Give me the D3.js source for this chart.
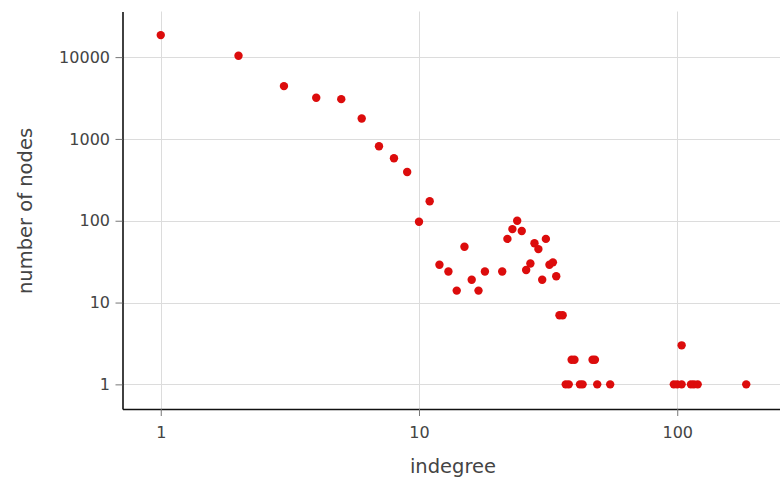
<!DOCTYPE html>
<html>
<head>
<meta charset="utf-8">
<script src="https://cdn.jsdelivr.net/npm/d3@7"></script>
<style>
  html, body { margin: 0; padding: 0; background: #fff; }
  svg { display: block; font-family: "DejaVu Sans", Verdana, sans-serif; }
</style>
</head>
<body>
<svg id="chart" width="780" height="481"></svg>
<script>
// Indegree distribution: number of nodes per indegree value
const indegree = [1, 2, 3, 4, 5, 6, 7, 8, 9, 10, 11,
  12, 13, 14, 15, 16, 17, 18, 21, 22, 23, 24, 25, 26, 27, 28, 29, 30, 31, 32, 33, 34,
  35, 36, 37, 38, 39, 40, 42, 43, 47, 48, 49, 55,
  97, 100, 104, 104, 113, 116, 120, 185];
const nodeCount = [18580, 10370, 4420, 3180, 3065, 1775, 815, 581, 395, 97, 173,
  29, 24, 14, 48, 19, 14, 24, 24, 60, 79, 100, 75, 25, 30, 53, 45, 19, 60, 29, 31, 21,
  7, 7, 1, 1, 2, 2, 1, 1, 2, 2, 1, 1,
  1, 1, 1, 3, 1, 1, 1, 1];

const xTicks = [1, 10, 100];
const yTicks = [1, 10, 100, 1000, 10000];
const xTitle = "indegree";
const yTitle = "number of nodes";

const svg = d3.select("#chart");
const plotLeft = 122.5, plotRight = 780, plotTop = 11.5, plotBottom = 409;

const x = d3.scaleLog().domain([0.711, 250]).range([plotLeft, plotRight]);
const y = d3.scaleLog().domain([0.5, 36100]).range([plotBottom, plotTop]);

// grid lines
const grid = svg.append("g").attr("stroke", "#dcdcdc").attr("stroke-width", 1);
grid.selectAll("line.gx").data(xTicks).join("line")
  .attr("class", "gx")
  .attr("x1", d => Math.round(x(d)) + 0.5).attr("x2", d => Math.round(x(d)) + 0.5)
  .attr("y1", plotTop).attr("y2", plotBottom);
grid.selectAll("line.gy").data(yTicks).join("line")
  .attr("class", "gy")
  .attr("y1", d => Math.round(y(d)) + 0.5).attr("y2", d => Math.round(y(d)) + 0.5)
  .attr("x1", plotLeft).attr("x2", plotRight);

// axes
const fmt = d => String(d);
const xAxis = svg.append("g")
  .attr("transform", `translate(0,${plotBottom})`)
  .call(d3.axisBottom(x).tickValues(xTicks).tickFormat(fmt).tickSize(7).tickSizeOuter(0));
const yAxis = svg.append("g")
  .attr("transform", `translate(${plotLeft},0)`)
  .call(d3.axisLeft(y).tickValues(yTicks).tickFormat(fmt).tickSize(7).tickSizeOuter(0));

[xAxis, yAxis].forEach(a => {
  a.select(".domain").attr("stroke", "#111").attr("stroke-width", 1.6);
  a.selectAll(".tick line").attr("stroke", "#777");
  a.selectAll(".tick text").attr("fill", "#444").style("font-size", "16px")
    .style("font-family", "\"DejaVu Sans\", Verdana, sans-serif");
});
xAxis.selectAll(".tick text").attr("y", 17.5).attr("dy", "0.71em");
yAxis.selectAll(".tick text").attr("x", -12.5);

// axis titles
svg.append("text")
  .attr("x", 453).attr("y", 473)
  .attr("text-anchor", "middle")
  .attr("fill", "#444").style("font-size", "19.5px")
  .text(xTitle);
svg.append("text")
  .attr("transform", "translate(32,211) rotate(-90)")
  .attr("text-anchor", "middle")
  .attr("fill", "#444").style("font-size", "19.5px")
  .text(yTitle);

// points
svg.append("g").selectAll("circle")
  .data(indegree.map((d, i) => [d, nodeCount[i]]))
  .join("circle")
  .attr("cx", d => x(d[0]))
  .attr("cy", d => y(d[1]))
  .attr("r", 4.2)
  .attr("fill", "#dc0c0c");
</script>
</body>
</html>
